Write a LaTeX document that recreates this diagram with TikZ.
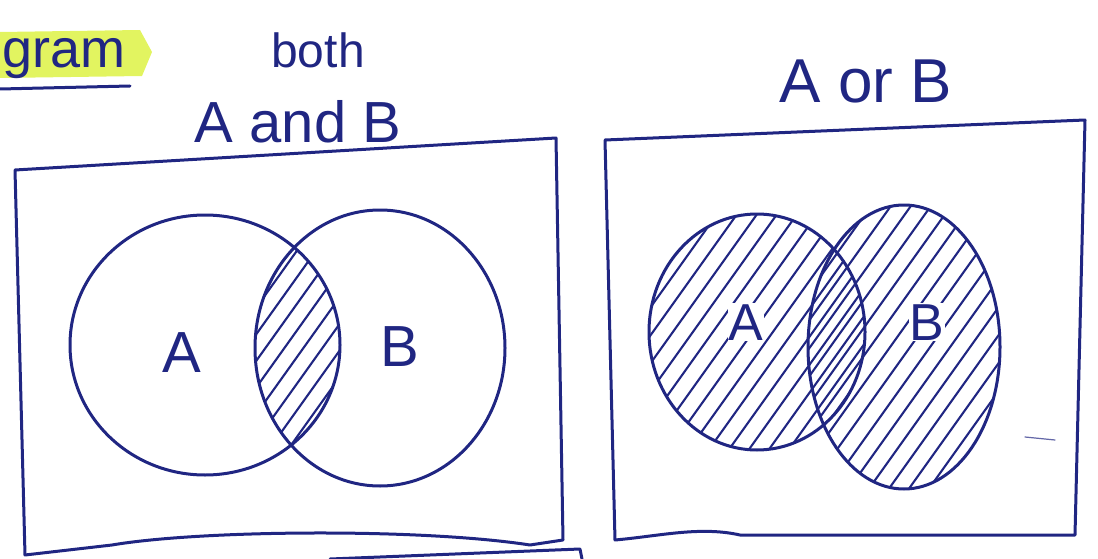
\documentclass[tikz,border=0pt]{standalone}
\usepackage{fontspec}
\setmainfont{Liberation Sans}
\definecolor{pen}{RGB}{32,38,130}
\definecolor{hl}{RGB}{226,244,96}
\begin{document}
\begin{tikzpicture}[x=1pt,y=-1pt, line join=round, line cap=round,
  pen/.style={draw=pen, line width=3pt},
  hatch/.style={draw=pen, line width=2.1pt},
  lbl/.style={text=pen, inner sep=0pt, anchor=base}]
\useasboundingbox (0,0) rectangle (1098,559);
% highlighter and heading fragment
\fill[hl] (0,32) -- (140,30) -- (152,52) -- (142,76) -- (0,78) -- cycle;
\node[lbl, font=\fontsize{54}{60}\selectfont, anchor=base west] (gram) at (2,68) {gram};
\coordinate (u1) at (0,89); \coordinate (u2) at (130,86);
\draw[pen] (u1) -- (u2);
% titles
\node[lbl, font=\fontsize{48}{52}\selectfont] (both) at (318,68) {both};
\node[lbl, font=\fontsize{58}{62}\selectfont] (AandB) at (298,143) {A and B};
\node[lbl, font=\fontsize{62}{66}\selectfont] (AorB) at (866,103) {A or B};
% left box
\draw[pen] (15,170) -- (556,138) -- (563,540) -- (530,545)
  .. controls (420,528) and (200,530) .. (112,545) -- (25,555) -- cycle;
% partial box below
\draw[pen] (330,559) -- (580,549) -- (582,559);
% right box
\draw[pen] (605,140) -- (1085,120) -- (1075,535) -- (740,535)
  .. controls (700,526) and (660,536) .. (615,540) -- cycle;
\draw[draw=pen!70, line width=1.2pt] (1025,437) -- (1055,440);
% left venn: intersection hatched
\begin{scope}
  \clip (205,345) ellipse [x radius=135, y radius=130];
  \clip (380,348) ellipse [x radius=125, y radius=138];
  \foreach \s in {150,169,...,460} \draw[hatch] (\s-150,560) -- (\s+150,140);
\end{scope}
\draw[pen] (205,345) ellipse [x radius=135, y radius=130];
\draw[pen] (380,348) ellipse [x radius=125, y radius=138];
\node[lbl, font=\fontsize{58}{62}\selectfont] (lA) at (182,372) {A};
\node[lbl, font=\fontsize{58}{62}\selectfont] (lB) at (400,366) {B};
% right venn: both hatched
\begin{scope}
  \clip (757,332) ellipse [x radius=108, y radius=118];
  \foreach \s in {560,580,...,960} \draw[hatch] (\s-150,560) -- (\s+150,140);
\end{scope}
\begin{scope}
  \clip (904,347) ellipse [x radius=96, y radius=142];
  \foreach \s in {708,728,...,1100} \draw[hatch] (\s-150,560) -- (\s+150,140);
\end{scope}
\draw[pen] (757,332) ellipse [x radius=108, y radius=118];
\draw[pen] (904,347) ellipse [x radius=96, y radius=142];
\node[lbl, font=\fontsize{52}{56}\selectfont, fill=white, inner sep=1pt] (rA) at (746,340) {A};
\node[lbl, font=\fontsize{52}{56}\selectfont, fill=white, inner sep=1pt] (rB) at (927,340) {B};
\end{tikzpicture}
\end{document}
